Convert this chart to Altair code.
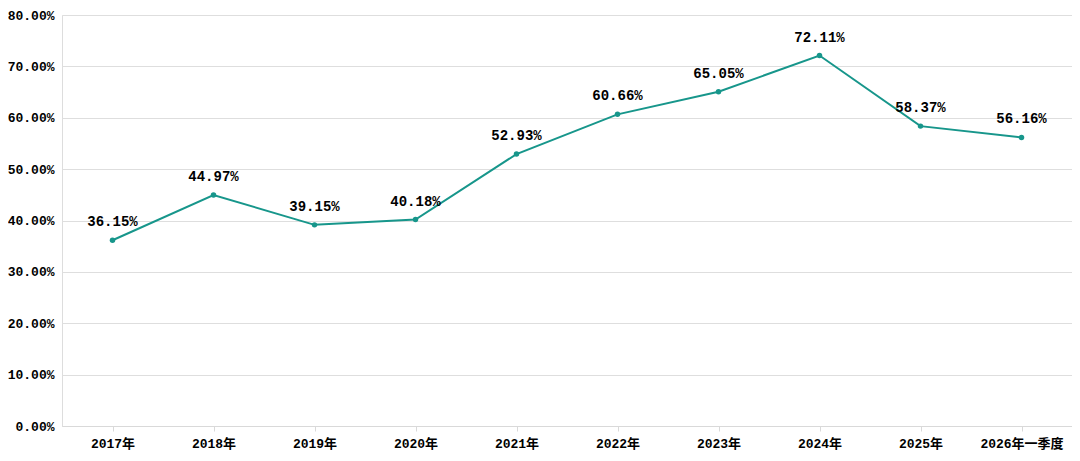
import altair as alt
import pandas as pd

categories = ["2017年", "2018年", "2019年", "2020年", "2021年", "2022年",
              "2023年", "2024年", "2025年", "2026年一季度"]
values = [36.15, 44.97, 39.15, 40.18, 52.93, 60.66, 65.05, 72.11, 58.37, 56.16]

df = pd.DataFrame({"cat": categories, "val": [v / 100 for v in values]})

FONT = "Liberation Mono, Noto Sans CJK SC"
COLOR = "#17968b"

x = alt.X("cat:N", sort=categories, title=None,
          scale=alt.Scale(paddingInner=0, paddingOuter=0),
          axis=alt.Axis(labelAngle=0, bandPosition=0, domainColor="#d9d9d9",
                        tickColor="#d9d9d9", tickSize=5, labelPadding=6,
                        labelFont=FONT, labelFontSize=13, labelColor="#000000",
                        labelFontWeight="bold", grid=False))
y = alt.Y("val:Q", title=None,
          scale=alt.Scale(domain=[0, 0.8]),
          axis=alt.Axis(format=".2%", values=[i / 10 for i in range(9)],
                        domain=False, ticks=False, gridColor="#dedede",
                        labelFont=FONT, labelFontSize=13, labelColor="#000000",
                        labelFontWeight="bold", labelPadding=8))

base = alt.Chart(df)
line = base.mark_line(color=COLOR, strokeWidth=2).encode(x=x, y=y)
pts = base.mark_point(color=COLOR, filled=True, size=30, opacity=1).encode(x=x, y=y)
labels = base.mark_text(dy=-18, font=FONT, fontSize=14, fontWeight="bold",
                        color="#000000").encode(
    x=x, y=y, text=alt.Text("val:Q", format=".2%"))

chart = (line + pts + labels).properties(
    width=1010, height=411,
    autosize=alt.AutoSizeParams(type="none"),
    padding={"left": 54, "top": 7, "right": 0, "bottom": 27},
).configure_view(stroke=None).configure(background="#ffffff")

chart.save("out.html", embed_options={"renderer": "svg", "actions": False})
